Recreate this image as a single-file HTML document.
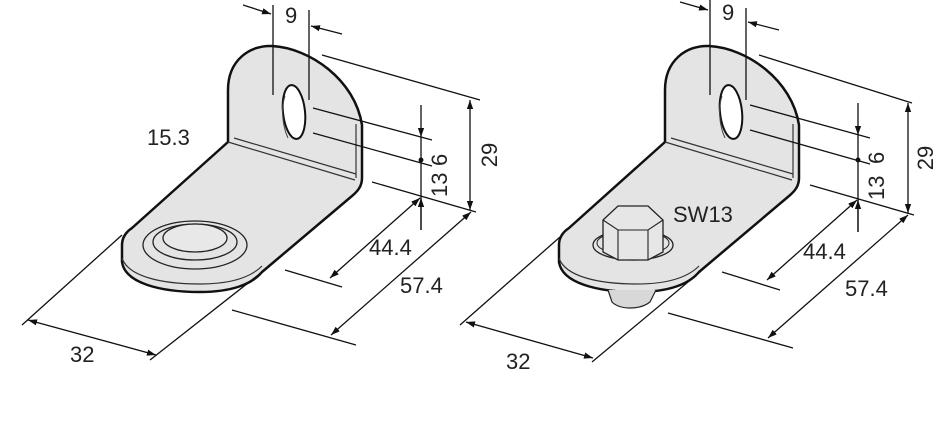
<!DOCTYPE html>
<html><head><style>
html,body{margin:0;padding:0;background:#fff;}
svg{display:block;font-family:"Liberation Sans",sans-serif;}
</style></head><body>
<svg width="940" height="433" viewBox="0 0 940 433" xmlns="http://www.w3.org/2000/svg">
<defs>
<marker id="a" viewBox="0 0 10 10" refX="10" refY="5" markerWidth="9" markerHeight="9" orient="auto-start-reverse" markerUnits="userSpaceOnUse"><path d="M0,1.5 L10,5 L0,8.5 Z" fill="#111"/></marker>
<g id="br">
<path d="M228,142 L228,90 C228,60 250,45 272,46 C310,48 355,80 362,125 L362,178 C362,186 358,191 352,196 L262,272 C252,284 232,292 200,292 C160,292 125,283 122,262 L122,245 C122,238 126,232 132,228 Z" fill="#e4e4e4" stroke="#111" stroke-width="2.5" stroke-linejoin="round"/>
<path d="M122,258 C128,276 160,284 200,284 C230,284 250,278 262,266" fill="none" stroke="#333" stroke-width="1.2"/>
<path d="M356,124 L356,178" stroke="#333" stroke-width="1.2"/>
<path d="M228,142 L355,180 M234,138 L356,174" stroke="#333" stroke-width="1.2"/>
<ellipse cx="294" cy="112" rx="11" ry="27" transform="rotate(-6 294 112)" fill="#fff" stroke="#111" stroke-width="2"/>
<path d="M285,96 C281,108 282,125 288,138" fill="none" stroke="#444" stroke-width="1"/>
</g>
</defs>
<g stroke="#111" stroke-width="1.3" fill="none">
<use href="#br"/>
<ellipse cx="195" cy="245" rx="52" ry="24" fill="#e4e4e4" stroke="#222" stroke-width="1.3"/>
<ellipse cx="195" cy="242" rx="42" ry="18" fill="#e4e4e4" stroke="#222" stroke-width="1.3"/>
<ellipse cx="195" cy="238" rx="32" ry="14" fill="#e8e8e8" stroke="#222" stroke-width="1.3"/>
<line x1="273" y1="5" x2="273" y2="95"/>
<line x1="309" y1="10" x2="309" y2="100"/>
<line x1="243" y1="5" x2="271" y2="14" marker-end="url(#a)"/>
<line x1="342" y1="34" x2="311" y2="26" marker-end="url(#a)"/>
<line x1="322" y1="55" x2="480" y2="100"/>
<line x1="313" y1="108" x2="432" y2="140"/>
<line x1="313" y1="133" x2="432" y2="166"/>
<line x1="372" y1="182" x2="476" y2="212"/>
<line x1="470" y1="100" x2="470" y2="210" marker-start="url(#a)" marker-end="url(#a)"/>
<line x1="421" y1="105" x2="421" y2="137" marker-end="url(#a)"/>
<line x1="421" y1="137" x2="421" y2="230"/>
<line x1="421" y1="230" x2="421" y2="198" marker-end="url(#a)"/>
<circle cx="421" cy="160" r="1.8" fill="#111"/>
<line x1="420" y1="198" x2="330" y2="278" marker-start="url(#a)" marker-end="url(#a)"/>
<line x1="285" y1="270" x2="342" y2="287"/>
<line x1="471" y1="212" x2="331" y2="335" marker-start="url(#a)" marker-end="url(#a)"/>
<line x1="232" y1="310" x2="356" y2="345"/>
<line x1="22" y1="325" x2="122" y2="235"/>
<line x1="150" y1="360" x2="262" y2="272"/>
<line x1="28" y1="320" x2="156" y2="355" marker-start="url(#a)" marker-end="url(#a)"/>
<use href="#br" transform="translate(437,0)"/>
<path d="M608,290 L612,302 C620,310 640,310 650,302 L656,290" fill="#d8d8d8" stroke="#222" stroke-width="1.2"/>
<use href="#br" transform="translate(437,0)" opacity="0"/>
<ellipse cx="633" cy="245" rx="40" ry="15" fill="#e4e4e4" stroke="#222" stroke-width="1.3"/>
<ellipse cx="633" cy="243" rx="36" ry="12" fill="#e4e4e4" stroke="#222" stroke-width="1"/>
<path d="M603,220 L618,206 L648,206 L663,220 L663,252 L648,260 L618,260 L603,252 Z" fill="#e6e6e6" stroke="#222" stroke-width="1.3"/>
<path d="M603,220 L618,230 L648,230 L663,220 M618,230 L618,260 M648,230 L648,260" stroke="#222" stroke-width="1.1"/>
<line x1="710" y1="0" x2="710" y2="95"/>
<line x1="746" y1="8" x2="746" y2="100"/>
<line x1="680" y1="2" x2="708" y2="10" marker-end="url(#a)"/>
<line x1="779" y1="30" x2="748" y2="22" marker-end="url(#a)"/>
<line x1="759" y1="55" x2="912" y2="103"/>
<line x1="750" y1="105" x2="870" y2="138"/>
<line x1="750" y1="130" x2="870" y2="164"/>
<line x1="810" y1="185" x2="914" y2="215"/>
<line x1="908" y1="103" x2="908" y2="213" marker-start="url(#a)" marker-end="url(#a)"/>
<line x1="858" y1="103" x2="858" y2="135" marker-end="url(#a)"/>
<line x1="858" y1="135" x2="858" y2="232"/>
<line x1="858" y1="232" x2="858" y2="200" marker-end="url(#a)"/>
<circle cx="858" cy="160" r="1.8" fill="#111"/>
<line x1="857" y1="200" x2="767" y2="280" marker-start="url(#a)" marker-end="url(#a)"/>
<line x1="722" y1="272" x2="780" y2="290"/>
<line x1="908" y1="215" x2="768" y2="338" marker-start="url(#a)" marker-end="url(#a)"/>
<line x1="668" y1="313" x2="793" y2="348"/>
<line x1="460" y1="325" x2="560" y2="237"/>
<line x1="592" y1="362" x2="700" y2="272"/>
<line x1="466" y1="322" x2="593" y2="358" marker-start="url(#a)" marker-end="url(#a)"/>
</g>
<g font-size="22" fill="#222">
<text x="285" y="23">9</text>
<text x="147" y="145">15.3</text>
<text x="369" y="255">44.4</text>
<text x="400" y="293">57.4</text>
<text x="70" y="362">32</text>
<text transform="translate(497,155) rotate(-90)" text-anchor="middle">29</text>
<text transform="translate(447,166) rotate(-90)">6</text>
<text transform="translate(447,197) rotate(-90)">13</text>
<text x="722" y="20">9</text>
<text x="673" y="222">SW13</text>
<text x="803" y="259">44.4</text>
<text x="845" y="296">57.4</text>
<text x="506" y="369">32</text>
<text transform="translate(933,158) rotate(-90)" text-anchor="middle">29</text>
<text transform="translate(884,164) rotate(-90)">6</text>
<text transform="translate(884,200) rotate(-90)">13</text>
</g>
</svg>
</body></html>
